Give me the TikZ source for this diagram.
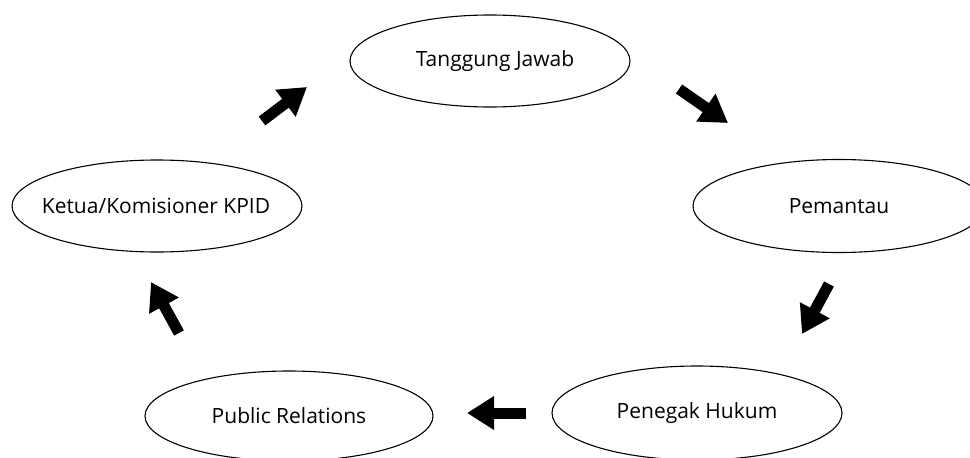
\documentclass[tikz,border=0pt]{standalone}
\usepackage{fontspec}
\setmainfont{Open Sans}
\usetikzlibrary{shapes.geometric,arrows.meta}
\begin{document}
\begin{tikzpicture}[x=1pt,y=-1pt,
  role/.style={draw=black, line width=1.1pt, ellipse, inner sep=0pt},
  rolelabel/.style={inner sep=0pt, font=\fontsize{21}{25}\selectfont},
  blockarrow/.style={line width=11pt, -{Triangle[length=27pt,width=32pt]}}]
\useasboundingbox (0,0) rectangle (970,458);
\clip (0,0) rectangle (970,458);
\node[role, minimum width=280pt, minimum height=92pt] (tj) at (490,61) {};
\node[role, minimum width=292pt, minimum height=93pt] (pm) at (839,206) {};
\node[role, minimum width=290pt, minimum height=94pt] (ph) at (697,413) {};
\node[role, minimum width=288pt, minimum height=90pt] (pr) at (289,416) {};
\node[role, minimum width=290pt, minimum height=92pt] (kt) at (157,206) {};
\node[rolelabel] (tjl) at (495,61) {Tanggung Jawab};
\node[rolelabel] (pml) at (839,206) {Pemantau};
\node[rolelabel] (phl) at (697,413) {Penegak Hukum};
\node[rolelabel] (prl) at (289,416) {Public Relations};
\node[rolelabel] (ktl) at (156,206) {Ketua/Komisioner KPID};
\coordinate (a1s) at (262,121); \coordinate (a1e) at (307,87);
\coordinate (a2s) at (679,89);  \coordinate (a2e) at (728,123);
\coordinate (a3s) at (829,284); \coordinate (a3e) at (802,334);
\coordinate (a4s) at (526,413); \coordinate (a4e) at (467,413);
\coordinate (a5s) at (179,333); \coordinate (a5e) at (151,282);
\draw[blockarrow] (a1s) -- (a1e);
\draw[blockarrow] (a2s) -- (a2e);
\draw[blockarrow] (a3s) -- (a3e);
\draw[blockarrow] (a4s) -- (a4e);
\draw[blockarrow] (a5s) -- (a5e);
\end{tikzpicture}
\end{document}
